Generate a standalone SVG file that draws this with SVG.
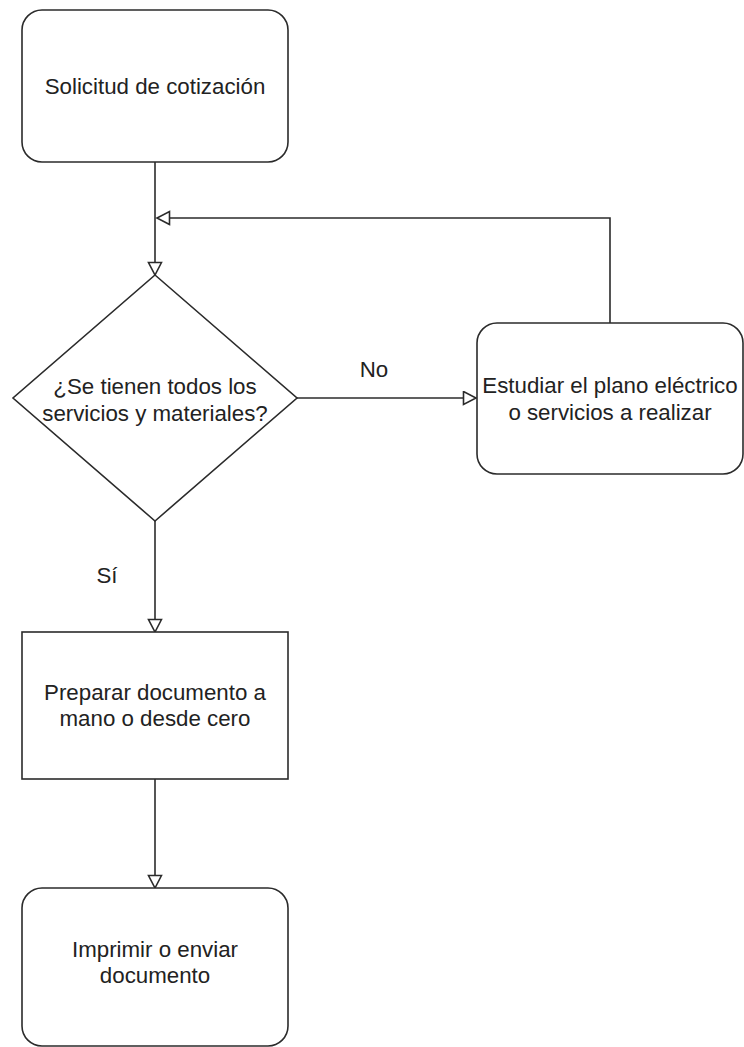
<svg xmlns="http://www.w3.org/2000/svg" width="744" height="1047" viewBox="0 0 744 1047">
  <style>
    .shape { fill: #ffffff; stroke: #2b2b2b; stroke-width: 1.6; }
    .edge { fill: none; stroke: #2b2b2b; stroke-width: 1.6; }
    .label { font-family: "Liberation Sans", Arial, sans-serif; font-size: 22.3px; fill: #222222; text-anchor: middle; }
  </style>
  <defs>
    <marker id="openArrow" markerUnits="userSpaceOnUse" markerWidth="16" markerHeight="16" refX="14" refY="7.5" orient="auto">
      <path d="M1.5,1 L14,7.5 L1.5,14 Z" fill="#ffffff" stroke="#2b2b2b" stroke-width="1.6"/>
    </marker>
  </defs>
  <rect width="744" height="1047" fill="#ffffff"/>

  <!-- connectors -->
  <g id="connectors">
    <path class="edge" d="M155,162 L155,275" marker-end="url(#openArrow)"/>
    <path class="edge" d="M296,398 L476,398" marker-end="url(#openArrow)"/>
    <path class="edge" d="M610,323 L610,218 L157,218" marker-end="url(#openArrow)"/>
    <path class="edge" d="M155,521 L155,632" marker-end="url(#openArrow)"/>
    <path class="edge" d="M155,779 L155,888" marker-end="url(#openArrow)"/>
    <text class="label" x="374" y="377">No</text>
    <text class="label" x="107" y="583">Sí</text>
  </g>

  <!-- start: quote request -->
  <g id="node-solicitud">
    <rect class="shape" x="22" y="10" width="266" height="152" rx="20" ry="20"/>
    <text class="label" x="155" y="94">Solicitud de cotización</text>
  </g>

  <!-- decision -->
  <g id="node-decision">
    <polygon class="shape" points="155,275 297,398 155,521 13,398"/>
    <text class="label" x="155" y="394">¿Se tienen todos los</text>
    <text class="label" x="155" y="421">servicios y materiales?</text>
  </g>

  <!-- study the plan -->
  <g id="node-estudiar">
    <rect class="shape" x="477" y="323" width="266" height="151" rx="20" ry="20"/>
    <text class="label" x="610" y="393">Estudiar el plano eléctrico</text>
    <text class="label" x="610" y="420">o servicios a realizar</text>
  </g>

  <!-- prepare document -->
  <g id="node-preparar">
    <rect class="shape" x="22" y="632" width="266" height="147"/>
    <text class="label" x="155" y="700">Preparar documento a</text>
    <text class="label" x="155" y="726">mano o desde cero</text>
  </g>

  <!-- print or send -->
  <g id="node-imprimir">
    <rect class="shape" x="22" y="888" width="266" height="158" rx="20" ry="20"/>
    <text class="label" x="155" y="957">Imprimir o enviar</text>
    <text class="label" x="155" y="983">documento</text>
  </g>
</svg>
